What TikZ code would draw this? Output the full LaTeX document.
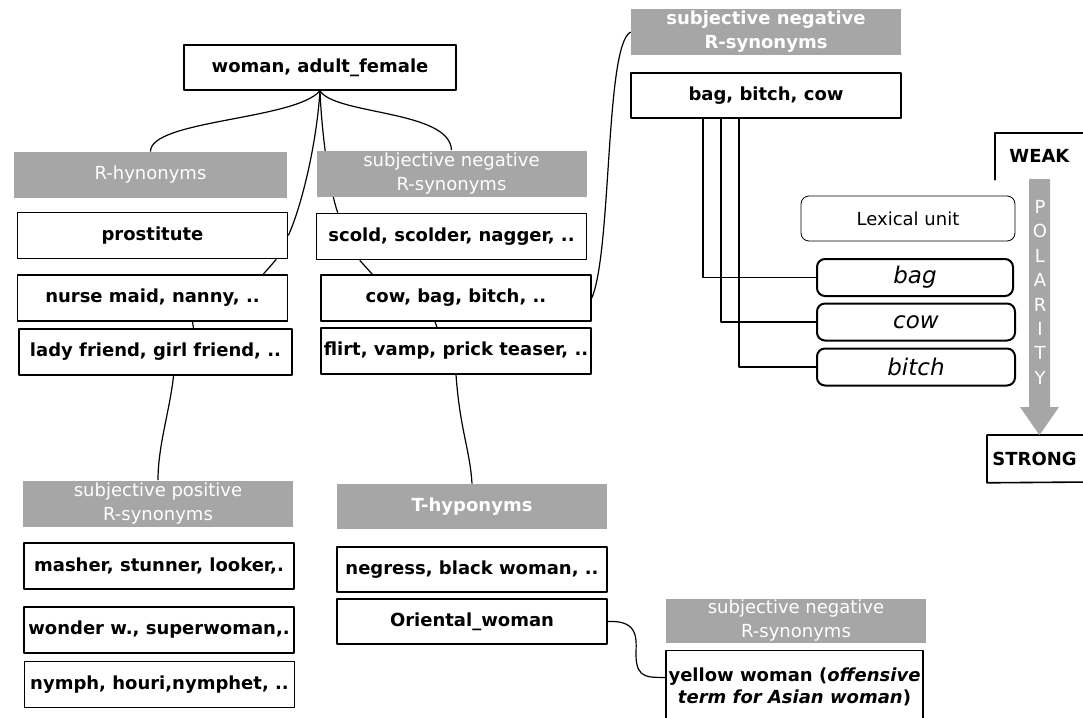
\documentclass[tikz,border=0pt]{standalone}
\usepackage{fontspec}
\setmainfont{DejaVu Sans}
\usetikzlibrary{backgrounds}
\definecolor{hdrgray}{RGB}{166,166,166}
\begin{document}
\begin{tikzpicture}[x=0.5pt,y=-0.5pt, line join=round, line cap=round,
    word/.style={draw, line width=0.8pt, fill=white, minimum width=135pt, minimum height=23pt,
      inner xsep=0pt, inner ysep=1pt, font=\fontsize{9}{11}\selectfont\bfseries},
    hdr/.style={fill=hdrgray, text=white, minimum width=135pt, minimum height=23pt,
      inner sep=0pt, align=center, font=\fontsize{9}{12}\selectfont},
    hdrbold/.style={hdr, font=\fontsize{9}{12}\selectfont\bfseries},
    lexbox/.style={draw, line width=0.4pt, rounded corners=4pt, fill=white, minimum width=107pt,
      minimum height=22.5pt, font=\fontsize{9}{11}\selectfont},
    sense/.style={draw, line width=1pt, rounded corners=4pt, fill=white, minimum width=98pt,
      minimum height=18.5pt, inner sep=0pt, font=\fontsize{11.5}{13}\selectfont\itshape},
    frame/.style={line width=0.8pt},
    link/.style={line width=0.6pt}]
  \useasboundingbox (0,0) rectangle (1083,718);
  % top
  \node[word, minimum width=136pt, minimum height=22.5pt] (wf) at (320,67.5) {woman, adult\_female};
  % left column
  \node[hdr, minimum width=136.5pt] (rhyp) at (150.5,175) {R-hynonyms};
  \node[word] (pros) at (152.5,235.5) {prostitute};
  \node[word] (nurse) at (152.5,298) {nurse maid, nanny, ..};
  \node[word, minimum width=136.5pt] (lady) at (155.5,352) {lady friend, girl friend, ..};
  % middle column
  \node[hdr] (sneg1) at (451.5,173.5) {subjective negative\\R-synonyms};
  \node[word] (scold) at (451.5,236.5) {scold, scolder, nagger, ..};
  \node[word] (cowbag) at (456,298) {cow, bag, bitch, ..};
  \node[word] (flirt) at (456,351) {flirt, vamp, prick teaser, ..};
  % right column
  \node[hdrbold] (sneg2) at (766,32) {subjective negative\\R-synonyms};
  \node[word, minimum height=22.5pt] (bbc) at (766,95.5) {bag, bitch, cow};
  \node[lexbox] (lex) at (908,218.5) {Lexical unit};
  \node[sense] (bag) at (915,277.5) {bag};
  \node[sense, minimum width=99pt] (cow) at (916,322) {cow};
  \node[sense, minimum width=99pt] (bitch) at (916,367) {bitch};
  \draw[frame] ([xshift=-31.5pt]bbc.south) |- (bag.west);
  \draw[frame] ([xshift=-22.5pt]bbc.south) |- (cow.west);
  \draw[frame] ([xshift=-13.5pt]bbc.south) |- (bitch.west);
  % polarity
  \node[anchor=north west, inner xsep=7pt, inner ysep=0pt, minimum height=23pt,
    font=\fontsize{9}{11}\selectfont\bfseries] (weak) at (995,133) {WEAK};
  \node[anchor=north west, inner xsep=2.5pt, inner ysep=0pt, minimum height=23.5pt,
    font=\fontsize{9}{11}\selectfont\bfseries] (strong) at (987,435) {STRONG};
  \draw[frame] (weak.south west) |- (1090,133);
  \draw[frame] (1090,482) -- (strong.south west) -- (strong.north west) -- (1090,435);
  \fill[hdrgray] (1029,179) -- (1050,179) -- (1050,407) -- (1059,407) -- (1039.5,435)
    -- (1020,407) -- (1029,407) -- cycle;
  \foreach \c [count=\i] in {P,O,L,A,R,I,T,Y}
    \node[text=white, inner sep=0pt, font=\fontsize{9}{11}\selectfont] (pol\i)
      at (1040,{207+24.4*(\i-1)}) {\c};
  % bottom left
  \node[hdr] (spos) at (158,503.5) {subjective positive\\R-synonyms};
  \node[word] (mash) at (159,566) {masher, stunner, looker,.};
  \node[word] (wond) at (159,630) {wonder w., superwoman,.};
  \node[word] (nymph) at (159.5,684.5) {nymph, houri,nymphet, ..};
  % bottom middle
  \node[hdrbold, minimum height=22.5pt] (thyp) at (472,506.5) {T-hyponyms};
  \node[word, minimum height=22.5pt] (negr) at (472,569.5) {negress, black woman, ..};
  \node[word, minimum height=22.5pt] (orient) at (472,621.5) {Oriental\_woman};
  % bottom right
  \node[hdr, minimum width=130pt, minimum height=22pt] (sneg3) at (796,621) {subjective negative\\R-synonyms};
  \node[word, minimum width=128.5pt, minimum height=36pt, align=center] (yell) at (794.5,686.5)
    {yellow woman (\textit{offensive}\\\textit{term for Asian woman})};
  % connectors
  \begin{pgfonlayer}{background}
    \draw[link] (wf.south) .. controls (295,120) and (150,120) .. (rhyp.north);
    \draw[link] (wf.south) .. controls (335,115) and (450,110) .. (sneg1.north);
    \draw[link] (wf.south) .. controls (316,150) and (300,210) .. (pros.east);
    \draw[link] (wf.south) .. controls (322,140) and (330,190) .. ([xshift=11pt]scold.north west);
    \draw[link] ([xshift=-6pt]pros.south east) -- ([xshift=-12.5pt]nurse.north east);
    \draw[link] ([xshift=20pt]nurse.south) -- ([xshift=19pt]lady.north);
    \draw[link] ([xshift=9pt]lady.south) .. controls (170,410) and (158,445) .. (spos.north);
    \draw[link] ([xshift=22pt]scold.south west) -- ([xshift=26pt]cowbag.north west);
    \draw[link] ([xshift=-10.5pt]cowbag.south) -- ([xshift=-9.5pt]flirt.north);
    \draw[link] (flirt.south) .. controls (460,430) and (470,450) .. (thyp.north);
    \draw[link] (cowbag.east) .. controls (612,250) and (605,45) .. (sneg2.west);
    \draw[link] (orient.east) .. controls (640,620) and (636,640) .. (636,655)
      .. controls (636,680) and (650,677) .. ([yshift=4.5pt]yell.west);
  \end{pgfonlayer}
\end{tikzpicture}
\end{document}
